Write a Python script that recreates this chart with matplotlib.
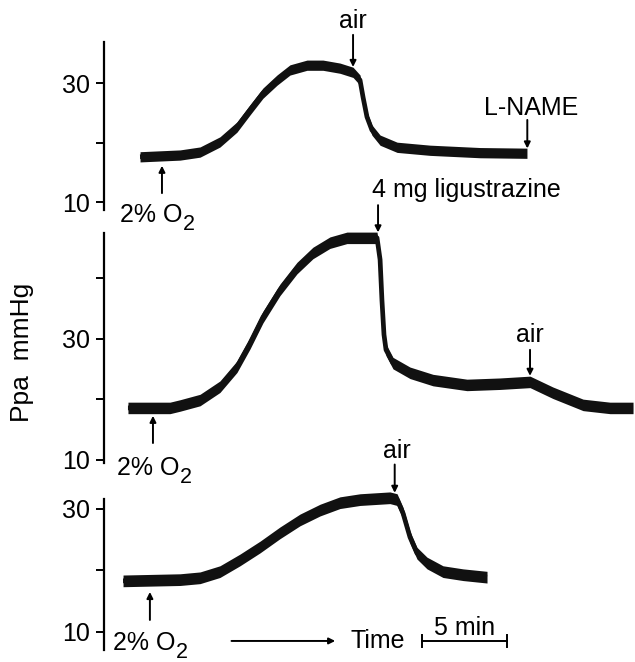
import matplotlib

matplotlib.use("Agg")

import matplotlib.pyplot as plt

plt.rcParams["font.family"] = ["Liberation Sans", "DejaVu Sans"]

# recorder traces: time in min, Ppa in mmHg
t_top = [2.12, 4.47, 5.65, 6.82, 7.82, 8.59, 9.35, 10.18, 10.94, 11.94, 12.88,
         13.88, 14.65, 15.06, 15.24, 15.47, 15.76, 16.24, 17.24, 19.18, 22.12, 24.88]
p_top = [17.6, 17.9, 18.4, 20.1, 22.6, 25.5, 28.3, 30.5, 32.2, 33.0, 33.0,
         32.5, 31.8, 30.5, 27.6, 24.3, 22.1, 20.4, 19.2, 18.7, 18.3, 18.2]

t_mid = [1.41, 3.88, 4.47, 5.65, 6.82, 7.82, 8.59, 9.35, 10.35, 11.35, 12.29,
         13.29, 14.29, 16.06, 16.24, 16.35, 16.47, 16.59, 17.0, 18.0, 19.35,
         21.35, 23.29, 25.06, 26.41, 28.18, 29.76, 31.12]
p_mid = [18.6, 18.6, 19.0, 19.9, 22.1, 25.4, 29.3, 33.6, 38.1, 41.7, 44.2,
         45.9, 46.7, 46.7, 43.1, 36.4, 30.7, 28.2, 26.0, 24.4, 23.2,
         22.4, 22.6, 22.9, 21.1, 19.1, 18.6, 18.6]

t_bot = [1.12, 4.47, 5.65, 6.82, 8.0, 9.18, 10.35, 11.53, 12.71, 13.88, 15.06,
         16.82, 17.24, 17.59, 18.0, 18.41, 19.0, 19.94, 21.12, 22.53]
p_bot = [18.3, 18.5, 18.8, 19.8, 21.7, 23.8, 26.1, 28.2, 29.8, 31.0, 31.5,
         31.8, 31.5, 29.3, 25.4, 22.8, 21.2, 19.8, 19.3, 18.9]

# event marks (min)
hypoxia_top, air_top, lname_top = 3.41, 14.65, 24.9
hypoxia_mid, ligu_mid, air_mid = 2.88, 16.12, 25.06
hypoxia_bot, air_bot = 2.7, 17.1
scale_start, scale_len = 18.7, 5

W, H = 635, 662
X_LEFT = 104
T_MAX = (W - X_LEFT) / 17.0
INK = "#111111"
FS = 18

fig = plt.figure(figsize=(W / 100, H / 100), dpi=100)


def add_panel(top_px, bottom_px, ylim, ticks, labels):
    ax = fig.add_axes([X_LEFT / W, 1 - bottom_px / H, (W - X_LEFT) / W, (bottom_px - top_px) / H])
    ax.set_xlim(0, T_MAX)
    ax.set_ylim(*ylim)
    for side in ("top", "right", "bottom"):
        ax.spines[side].set_visible(False)
    ax.spines["left"].set_linewidth(1.6)
    ax.set_xticks([])
    ax.set_yticks(ticks)
    ax.set_yticklabels(labels)
    ax.tick_params(axis="y", length=6, width=1.4, pad=4, labelsize=FS)
    ax.patch.set_visible(False)
    return ax


def draw_trace(ax, t, p, half):
    ax.fill_between(t, [v - half for v in p], [v + half for v in p], color=INK, lw=0, clip_on=False)
    ax.plot(t, p, color=INK, lw=3.4, solid_capstyle="butt", solid_joinstyle="round", clip_on=False)


def arrow(ax, x, y_from, y_to):
    ax.annotate("", xy=(x, y_to), xytext=(x, y_from), annotation_clip=False,
                arrowprops=dict(arrowstyle="-|>", lw=1.4, color="black",
                                mutation_scale=9, shrinkA=0, shrinkB=0))


def label(ax, x, y, s, ha="center"):
    ax.text(x, y, s, ha=ha, va="baseline", fontsize=FS, clip_on=False)


def o2_label(ax, x, y):
    # "2% O" plus a large, dropped subscript 2 as in the original lettering
    ax.text(x, y, "2% O", ha="left", va="baseline", fontsize=FS, clip_on=False)
    ax.annotate("2", xy=(x, y), xytext=(45.5, -6), textcoords="offset points",
                ha="left", va="baseline", fontsize=15.5, annotation_clip=False)


ax1 = add_panel(42, 210, (8.66, 36.9), [10, 20, 30], ["10", "", "30"])
ax2 = add_panel(233, 463, (9.5, 47.5), [10, 20, 30, 40], ["10", "", "30", ""])
ax3 = add_panel(499, 650, (7.07, 31.6), [10, 20, 30], ["10", "", "30"])

draw_trace(ax1, t_top, p_top, 0.86)
draw_trace(ax2, t_mid, p_mid, 0.95)
draw_trace(ax3, t_bot, p_bot, 0.95)

# top panel
label(ax1, air_top, 39.3, "air")
arrow(ax1, air_top, 38.1, 32.7)
label(ax1, lname_top + 0.2, 24.6, "L-NAME")
arrow(ax1, lname_top, 23.8, 19.0)
o2_label(ax1, 0.94, 6.7)
arrow(ax1, hypoxia_top, 11.5, 16.1)

# middle panel
label(ax2, ligu_mid - 0.36, 53.5, "4 mg ligustrazine", ha="left")
arrow(ax2, ligu_mid, 52.1, 47.6)
label(ax2, air_mid, 29.5, "air")
arrow(ax2, air_mid, 28.2, 23.9)
o2_label(ax2, 0.76, 7.55)
arrow(ax2, hypoxia_mid, 12.8, 17.3)

# bottom panel
label(ax3, air_bot + 0.14, 38.3, "air")
arrow(ax3, air_bot, 37.2, 32.6)
o2_label(ax3, 0.53, 7.1)
arrow(ax3, hypoxia_bot, 11.95, 16.5)

# time arrow and 5 min scale bar
bar_y = 8.54
arrow_t = [7.5, 13.6]
ax3.annotate("", xy=(arrow_t[1], bar_y), xytext=(arrow_t[0], bar_y), annotation_clip=False,
             arrowprops=dict(arrowstyle="-|>", lw=1.4, color="black",
                             mutation_scale=9, shrinkA=0, shrinkB=0))
ax3.text(14.5, bar_y - 1.1, "Time", ha="left", va="baseline", fontsize=FS, clip_on=False)
ax3.plot([scale_start, scale_start + scale_len], [bar_y, bar_y], color="black", lw=1.4, clip_on=False)
for xb in (scale_start, scale_start + scale_len):
    ax3.plot([xb, xb], [bar_y - 1.0, bar_y + 1.0], color="black", lw=1.4, clip_on=False)
ax3.text(scale_start + scale_len / 2, bar_y + 1.0, "5 min", ha="center", va="baseline",
         fontsize=FS, clip_on=False)

fig.text(22 / W, 1 - 352 / H, "Ppa  mmHg", rotation=90, ha="center", va="center", fontsize=FS + 1)

fig.savefig("out.png", dpi=100)
